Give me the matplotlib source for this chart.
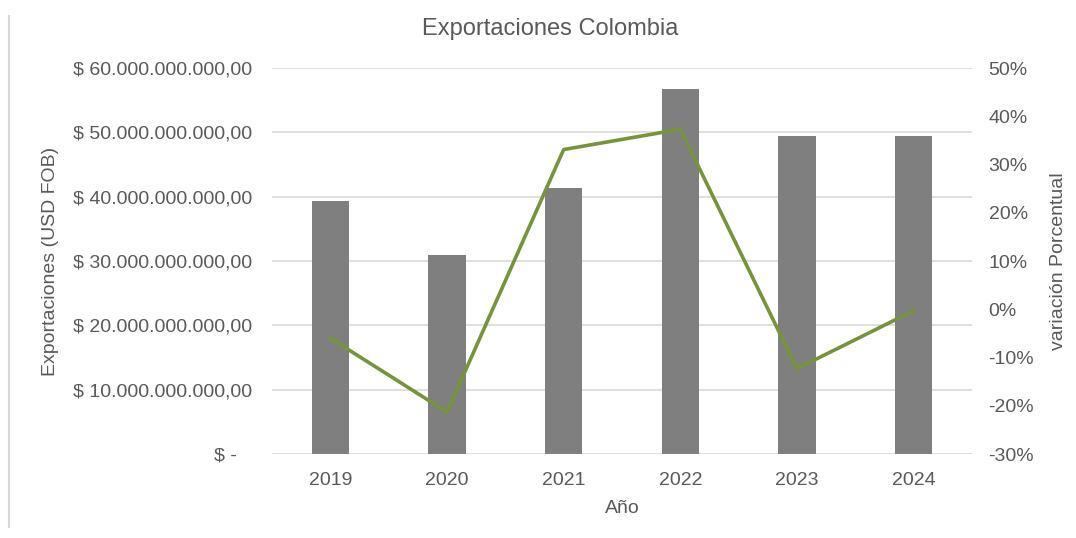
import numpy as np
import matplotlib.pyplot as plt
from matplotlib.ticker import FuncFormatter
from matplotlib.lines import Line2D

plt.rcParams['font.family'] = ['Liberation Sans', 'DejaVu Sans']

years = ['2019', '2020', '2021', '2022', '2023', '2024']
exports_usd = [39.3e9, 31.0e9, 41.3e9, 56.8e9, 49.5e9, 49.4e9]
variation_pct = [-6.0, -21.3, 33.1, 37.3, -12.3, -0.3]

text_color = '#595959'
bar_color = '#7f7f7f'
line_color = '#77933c'
grid_color = '#d9d9d9'


def money_fmt(v, pos):
    if v == 0:
        return '$ -   '
    s = f'{v:,.2f}'.replace(',', 'X').replace('.', ',').replace('X', '.')
    return f'$ {s}'


fig = plt.figure(figsize=(10.76, 5.38), dpi=100)
ax = fig.add_axes([0.2528, 0.1561, 0.6505, 0.7175])
ax2 = ax.twinx()

x = np.arange(len(years))
ax.bar(x, exports_usd, width=0.32, color=bar_color, zorder=2)
ax.set_xlim(-0.5, len(years) - 0.5)
ax.set_ylim(0, 60e9)
ax.set_yticks(np.arange(0, 60e9 + 1, 10e9))
ax.yaxis.set_major_formatter(FuncFormatter(money_fmt))
ax.set_xticks(x)
ax.set_xticklabels(years)
ax.grid(axis='y', color=grid_color, linewidth=1.2, zorder=0)
ax.set_axisbelow(True)

ax2.plot(x, variation_pct, color=line_color, linewidth=2.6, zorder=3)
ax2.set_ylim(-30, 50)
ax2.set_yticks(np.arange(-30, 51, 10))
ax2.yaxis.set_major_formatter(FuncFormatter(lambda v, p: f'{v:.0f}%'))

for a in (ax, ax2):
    for sp in a.spines.values():
        sp.set_visible(False)
    a.tick_params(length=0, labelsize=14, colors=text_color)

ax.tick_params(axis='y', pad=14)
ax.tick_params(axis='x', pad=13)
ax2.tick_params(axis='y', pad=12)

ax.set_xlabel('Año', fontsize=14, color=text_color, labelpad=8)
ax.set_ylabel('Exportaciones (USD FOB)', fontsize=14, color=text_color, labelpad=10)
ax2.set_ylabel('variación Porcentual', fontsize=14, color=text_color, labelpad=11)
fig.text(0.511, 0.946, 'Exportaciones Colombia', ha='center', va='center',
         fontsize=17, color=text_color)

fig.add_artist(Line2D([0.0084, 0.0084], [0.02, 0.97], color='#d9d9d9', linewidth=1.5))

fig.savefig('out.png', dpi=100)
